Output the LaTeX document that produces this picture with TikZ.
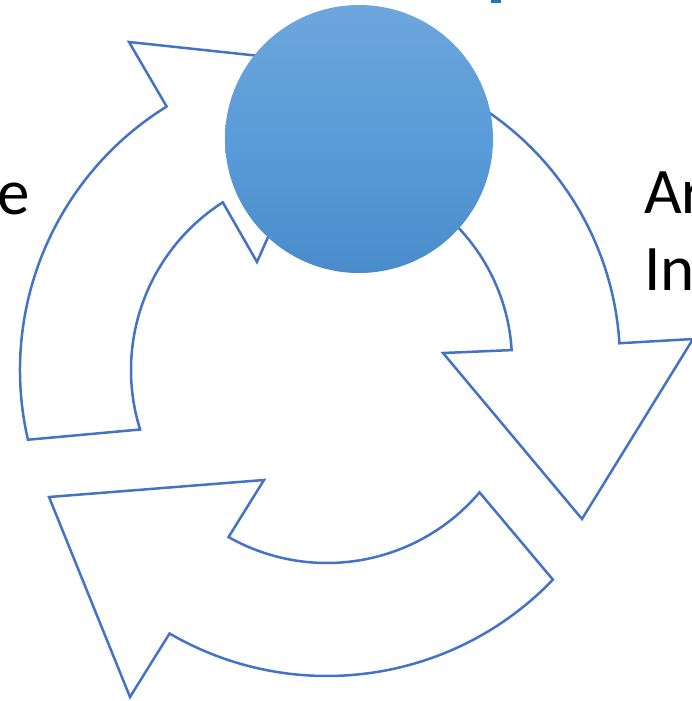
\documentclass[tikz,border=0pt]{standalone}
\usepackage{fontspec}
\setmainfont{Carlito}
\definecolor{arrowblue}{HTML}{4472C4}
\definecolor{ctop}{HTML}{6DA6DC}
\definecolor{cmid}{HTML}{5A9BD9}
\definecolor{cbot}{HTML}{4A8BCB}
\definecolor{titleblue}{HTML}{2E75B6}
\begin{document}
\begin{tikzpicture}[x=1pt,y=-1pt,
  arrowshape/.style={draw=arrowblue, line width=2.5pt, fill=white, line join=miter},
  bigtext/.style={inner sep=0pt, font=\fontsize{65}{77}\selectfont}]
\useasboundingbox (0,0) rectangle (692,701);
\clip (0,0) rectangle (692,701);

% left arrow (pointing up towards the hub)
\draw[arrowshape] ([shift={(330,370)}]167:310) arc[start angle=167,end angle=238.2,radius=310]
  -- (129,42) -- (344,65) -- (257,262)
  -- ([shift={(330,370)}]237.4:199) arc[start angle=237.4,end angle=162.6,radius=199] -- cycle;

% right arrow (pointing down)
\draw[arrowshape] ([shift={(317,362)}]-60:303) arc[start angle=-60,end angle=-3.55,radius=303]
  -- (693,339) -- (582,519) -- (443,353)
  -- ([shift={(317,362)}]-3.5:195) arc[start angle=-3.5,end angle=-60,radius=195] -- cycle;

% bottom arrow (pointing left)
\draw[arrowshape] ([shift={(327,363)}]43.8:313) arc[start angle=43.8,end angle=120.2,radius=313]
  -- (130,697) -- (49,497) -- (264,480)
  -- ([shift={(327,363)}]119.5:200) arc[start angle=119.5,end angle=40.3,radius=200] -- cycle;

% hub circle
\node[circle, minimum size=268pt, inner sep=0pt, top color=ctop, bottom color=cbot, middle color=cmid] (hub) at (359,139) {};

% texts
\node[bigtext, anchor=base east] (ltext) at (30,214) {e};
\node[bigtext, anchor=base west] (rtext1) at (644,213) {Ar};
\node[bigtext, anchor=base west] (rtext2) at (644,290) {In};

% fragment of title at top
\fill[titleblue] (491,0) rectangle (501,3);
\end{tikzpicture}
\end{document}
